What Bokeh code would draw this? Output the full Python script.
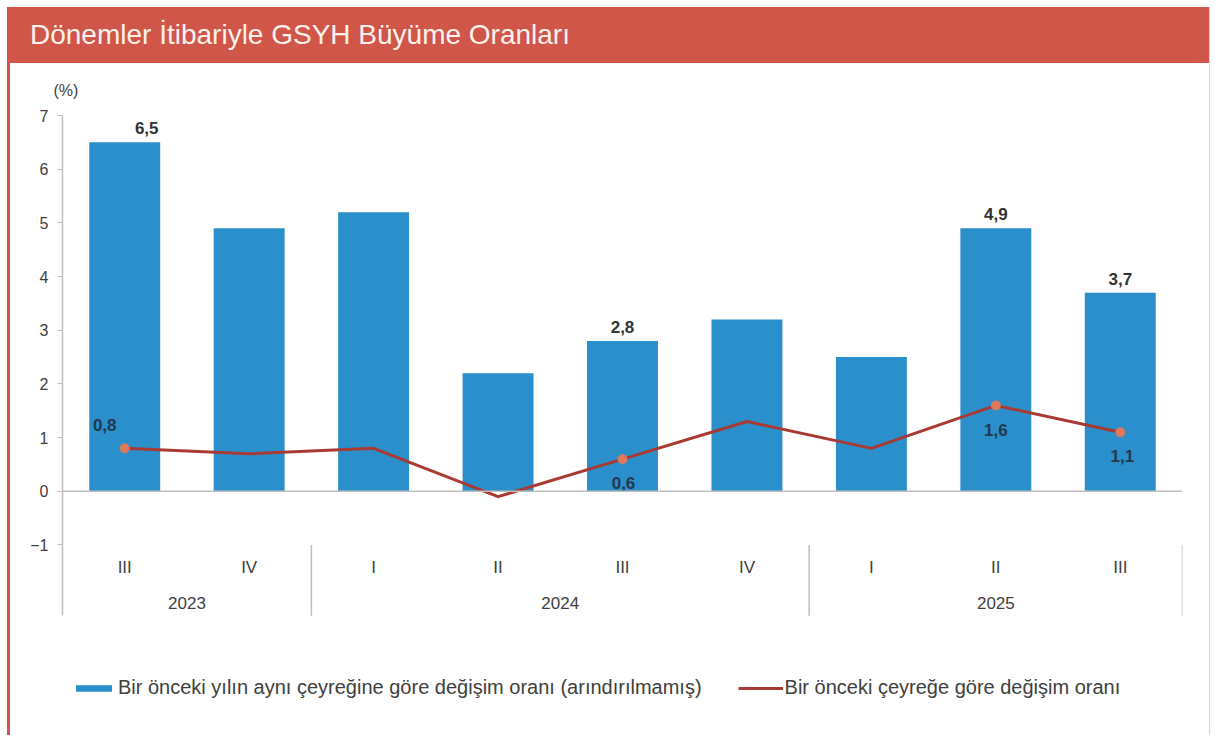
from bokeh.plotting import figure
from bokeh.models import Range1d, ColumnDataSource, FixedTicker, Span, Legend, LegendItem, Div
from bokeh.layouts import column
from bokeh.embed import file_html
from bokeh.resources import INLINE
from bokeh.core.properties import value

# ---------------- data ----------------
title_text = "Dönemler İtibariyle GSYH Büyüme Oranları"
unit_text = "(%)"
years = ["2023", "2024", "2025"]
quarters = ["III", "IV", "I", "II", "III", "IV", "I", "II", "III"]
quarter_year = ["2023", "2023", "2024", "2024", "2024", "2024", "2025", "2025", "2025"]
yoy = [6.5, 4.9, 5.2, 2.2, 2.8, 3.2, 2.5, 4.9, 3.7]
qoq = [0.8, 0.7, 0.8, -0.1, 0.6, 1.3, 0.8, 1.6, 1.1]
yoy_labelled = [True, False, False, False, True, False, False, True, True]
qoq_labelled = [True, False, False, False, True, False, False, True, True]
y_ticks = [-1, 0, 1, 2, 3, 4, 5, 6, 7]
legend_yoy = "Bir önceki yılın aynı çeyreğine göre değişim oranı (arındırılmamış)"
legend_qoq = "Bir önceki çeyreğe göre değişim oranı"

# ---------------- style / layout ----------------
FONT = "Liberation Sans"
RED = "#cf5649"
BLUE = "#2a8fcb"
LINE = "#a83a33"
MARK = "#e2785a"
GREY = "#bfbfbf"
TXT = "#404040"
W = 1199
TITLE_H = 56
MAIN_H = 672
TOP_B = 50
K = 53.86               # pixels per unit on the value axis
Y1 = max(y_ticks)
Y0 = Y1 - (MAIN_H - TOP_B) / K
AXIS_LOW = -2.32        # where the value axis / separators end
yoy_dx = {0: 22}
qoq_off = {0: (-20, -23), 4: (1, 24), 7: (0, 25), 8: (2, 24)}

def fmt(v):
    return f"{v:.1f}".replace(".", ",")

n = len(quarters)
xs = list(range(n))

# ---------------- title bar ----------------
title_div = Div(text=title_text, width=W, height=TITLE_H, margin=0,
                styles={"background-color": RED, "color": "#fdf1ee",
                        "font-family": FONT, "font-size": "28px",
                        "line-height": f"{TITLE_H}px", "padding-left": "20px",
                        "box-sizing": "border-box", "white-space": "nowrap"})

# ---------------- main chart ----------------
p = figure(width=W, height=MAIN_H, x_range=Range1d(-0.5, n - 0.5), y_range=Range1d(Y0, Y1),
           toolbar_location=None, output_backend="svg", x_axis_location=None,
           min_border_left=52, min_border_right=27, min_border_top=TOP_B, min_border_bottom=0)
p.grid.visible = False
p.outline_line_color = None
p.background_fill_color = "white"
p.border_fill_color = "white"

p.title.text = unit_text
p.title.align = "left"
p.title.offset = -9
p.title.standoff = 33
p.title.text_font = FONT
p.title.text_font_size = "16px"
p.title.text_font_style = "normal"
p.title.text_color = TXT

ya = p.yaxis[0]
ya.ticker = FixedTicker(ticks=y_ticks)
ya.bounds = (AXIS_LOW, max(y_ticks))
ya.axis_line_color = GREY
ya.axis_line_width = 1.5
ya.major_tick_line_color = GREY
ya.major_tick_in = 0
ya.major_tick_out = 5
ya.minor_tick_line_color = None
ya.major_label_standoff = 9
ya.major_label_text_font = FONT
ya.major_label_text_font_size = "16px"
ya.major_label_text_color = TXT

src = ColumnDataSource(dict(x=xs, yoy=yoy, qoq=qoq))
bars = p.vbar(x="x", top="yoy", width=0.57, source=src, fill_color=BLUE, line_color=None)
p.add_layout(Span(location=0, dimension="width", line_color=GREY, line_width=1.5))
line = p.line(x="x", y="qoq", source=src, line_color=LINE, line_width=3)

# markers at labelled line points
mx = [xs[i] for i in range(n) if qoq_labelled[i]]
my = [qoq[i] for i in range(n) if qoq_labelled[i]]
p.scatter(x=mx, y=my, size=9, marker="circle", fill_color=MARK, line_color=MARK)

# bar labels
bl = [i for i in range(n) if yoy_labelled[i]]
p.text(x=[xs[i] for i in bl], y=[yoy[i] for i in bl], text=[fmt(yoy[i]) for i in bl],
       x_offset=[yoy_dx.get(i, 0) for i in bl], y_offset=-14,
       text_font=value(FONT), text_font_size="17px", text_font_style="bold",
       text_color="#333333", text_align="center", text_baseline="middle")

# line labels
ql = [i for i in range(n) if qoq_labelled[i]]
p.text(x=[xs[i] for i in ql], y=[qoq[i] for i in ql], text=[fmt(qoq[i]) for i in ql],
       x_offset=[qoq_off[i][0] for i in ql], y_offset=[qoq_off[i][1] for i in ql],
       text_font=value(FONT), text_font_size="17px", text_font_style="bold",
       text_color="#22384f", text_align="center", text_baseline="middle")

# category axis (quarters + years)
p.text(x=xs, y=[-1.42] * n, text=quarters, text_font=value(FONT), text_font_size="17px",
       text_color=TXT, text_align="center", text_baseline="middle")
ycent = [sum(i for i in xs if quarter_year[i] == yr) / quarter_year.count(yr) for yr in years]
p.text(x=ycent, y=[-2.08] * len(years), text=years, text_font=value(FONT), text_font_size="17px",
       text_color=TXT, text_align="center", text_baseline="middle")
seps = [i - 0.5 for i in range(1, n) if quarter_year[i] != quarter_year[i - 1]] + [n - 0.5]
p.segment(x0=seps, y0=[-1.0] * len(seps), x1=seps, y1=[AXIS_LOW] * len(seps),
          line_color=GREY, line_width=1.5)

legend = Legend(items=[LegendItem(label=legend_yoy, renderers=[bars]),
                       LegendItem(label=legend_qoq, renderers=[line])],
                location=(9, 36), orientation="horizontal", padding=0, margin=0,
                spacing=36, label_standoff=2, glyph_width=45, glyph_height=8,
                label_text_font=FONT, label_text_font_size="20px", label_text_color=TXT,
                border_line_color=None, background_fill_alpha=0)
p.add_layout(legend, "center")

layout = column(title_div, p, styles={"margin-left": "7px", "margin-top": "7px",
                                      "border-left": f"3px solid {RED}",
                                      "border-right": "1px solid #f2cbc4"})

open("out.html", "w").write(file_html(layout, INLINE))
